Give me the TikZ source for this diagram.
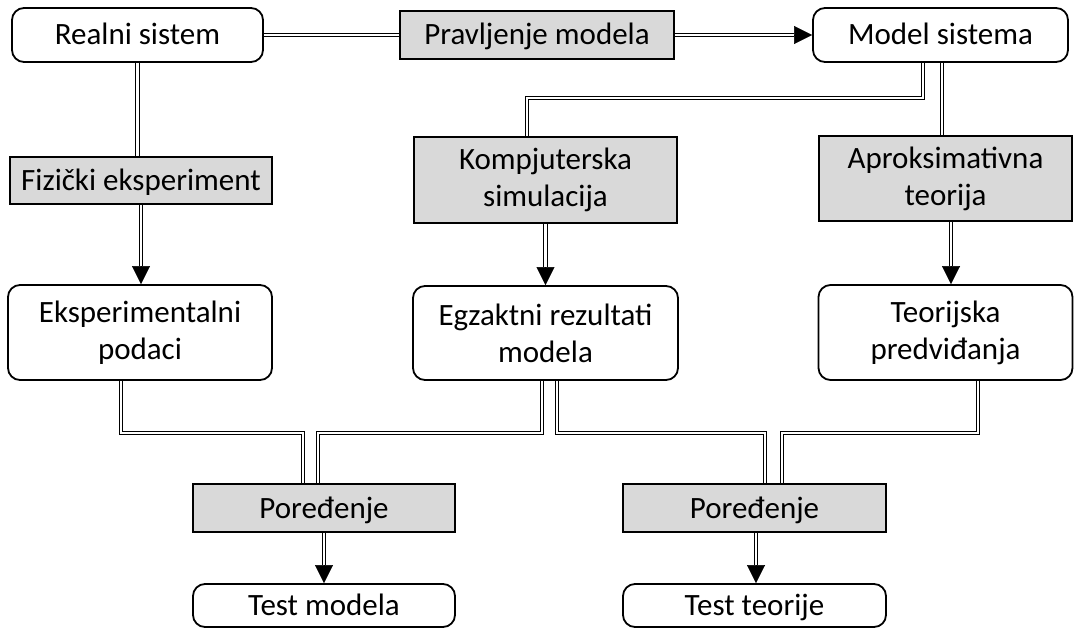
\documentclass[tikz,border=0pt]{standalone}
\usepackage{fontspec}
\setmainfont{Carlito}
\usetikzlibrary{arrows.meta,calc}
\pgfdeclarelayer{bg}
\pgfsetlayers{bg,main}
\begin{document}
\begin{tikzpicture}[x=1pt,y=-1pt,
  font=\fontsize{31}{37}\selectfont,
  wbox/.style={draw=black, line width=1.8pt, rounded corners=12pt, fill=white, align=center, inner sep=0pt},
  gbox/.style={draw=black, line width=1.8pt, fill=gray!30, align=center, inner sep=0pt},
  oneline/.style={text height=20pt, text depth=0pt},
  dbl/.style={draw=black, double=white, line width=1.2pt, double distance=2.4pt},
  arrtip/.style={-{Triangle[length=18pt,width=18pt]}, line width=0.5pt},
]
\useasboundingbox (0,0) rectangle (1075,634);

\node[wbox, oneline, minimum width=251pt, minimum height=54pt] (real) at (137.5,35) {Realni sistem};
\node[gbox, oneline, minimum width=274pt, minimum height=48pt] (prav) at (537,35) {Pravljenje modela};
\node[wbox, oneline, minimum width=255pt, minimum height=54pt] (model) at (940.5,35) {Model sistema};

\node[gbox, oneline, minimum width=262pt, minimum height=47pt] (fiz) at (141,180.5) {Fizički eksperiment};
\node[gbox, minimum width=263pt, minimum height=86pt] (komp) at (545.5,180) {Kompjuterska\\simulacija};
\node[gbox, minimum width=253pt, minimum height=85pt] (aprok) at (945.5,178.5) {Aproksimativna\\teorija};

\node[wbox, minimum width=264pt, minimum height=95pt] (eksp) at (140,332.5) {Eksperimentalni\\podaci};
\node[wbox, minimum width=265pt, minimum height=94pt] (egz) at (545.5,333) {Egzaktni rezultati\\modela};
\node[wbox, minimum width=254pt, minimum height=95pt] (teor) at (945.5,332.5) {Teorijska\\predviđanja};

\node[gbox, oneline, minimum width=262pt, minimum height=48pt] (por1) at (324,508) {Poređenje};
\node[gbox, oneline, minimum width=263pt, minimum height=48pt] (por2) at (754.5,508) {Poređenje};

\node[wbox, oneline, minimum width=262pt, minimum height=43pt] (testm) at (324,605.5) {Test modela};
\node[wbox, oneline, minimum width=263pt, minimum height=43pt] (testt) at (754.5,605.5) {Test teorije};

\coordinate (hy) at (0,433);
\coordinate (ty) at (0,98);

% arrow end points
\coordinate (a1) at (model.west);
\coordinate (a1b) at ([xshift=-18pt]model.west);
\coordinate (a2) at (fiz.south |- eksp.north);
\coordinate (a2b) at ([yshift=18pt]a2);
\coordinate (a3) at (komp.south |- egz.north);
\coordinate (a3b) at ([yshift=18pt]a3);
\coordinate (a4s) at ([xshift=5.5pt]aprok.south);
\coordinate (a4) at (a4s |- teor.north);
\coordinate (a4b) at ([yshift=18pt]a4);
\coordinate (a5) at (por1.south |- testm.north);
\coordinate (a5b) at ([yshift=18pt]a5);
\coordinate (a6s) at ([xshift=1.5pt]por2.south);
\coordinate (a6) at (a6s |- testt.north);
\coordinate (a6b) at ([yshift=18pt]a6);

% branch points
\coordinate (m1) at ([xshift=-17.5pt]model.south);
\coordinate (k1) at ([xshift=-18.5pt]komp.north);
\coordinate (m2) at ([xshift=1.5pt]model.south);
\coordinate (e1) at ([xshift=-19pt]eksp.south);
\coordinate (p1a) at ([xshift=-21pt]por1.north);
\coordinate (g1) at ([xshift=-3.5pt]egz.south);
\coordinate (p1b) at ([xshift=-6pt]por1.north);
\coordinate (g2) at ([xshift=11.5pt]egz.south);
\coordinate (p2a) at ([xshift=10.5pt]por2.north);
\coordinate (t1) at ([xshift=32.5pt]teor.south);
\coordinate (p2b) at ([xshift=27.5pt]por2.north);

\begin{pgfonlayer}{bg}
\draw[dbl] (real.east) -- (prav.west);
\draw[dbl] (prav.east) -- (a1b);
\draw[dbl] (real.south) -- (real.south |- fiz.north);
\draw[dbl] (fiz.south) -- (a2b);
\draw[dbl] (m1) -- (m1 |- ty) -- (k1 |- ty) -- (k1);
\draw[dbl] (m2) -- (m2 |- aprok.north);
\draw[dbl] (komp.south) -- (a3b);
\draw[dbl] (a4s) -- (a4b);
\draw[dbl] (e1) -- (e1 |- hy) -- (p1a |- hy) -- (p1a);
\draw[dbl] (g1) -- (g1 |- hy) -- (p1b |- hy) -- (p1b);
\draw[dbl] (g2) -- (g2 |- hy) -- (p2a |- hy) -- (p2a);
\draw[dbl] (t1) -- (t1 |- hy) -- (p2b |- hy) -- (p2b);
\draw[dbl] (por1.south) -- (a5b);
\draw[dbl] (a6s) -- (a6b);
\end{pgfonlayer}

\draw[arrtip] (a1b) -- (a1);
\draw[arrtip] (a2b) -- (a2);
\draw[arrtip] (a3b) -- (a3);
\draw[arrtip] (a4b) -- (a4);
\draw[arrtip] (a5b) -- (a5);
\draw[arrtip] (a6b) -- (a6);
\end{tikzpicture}
\end{document}
